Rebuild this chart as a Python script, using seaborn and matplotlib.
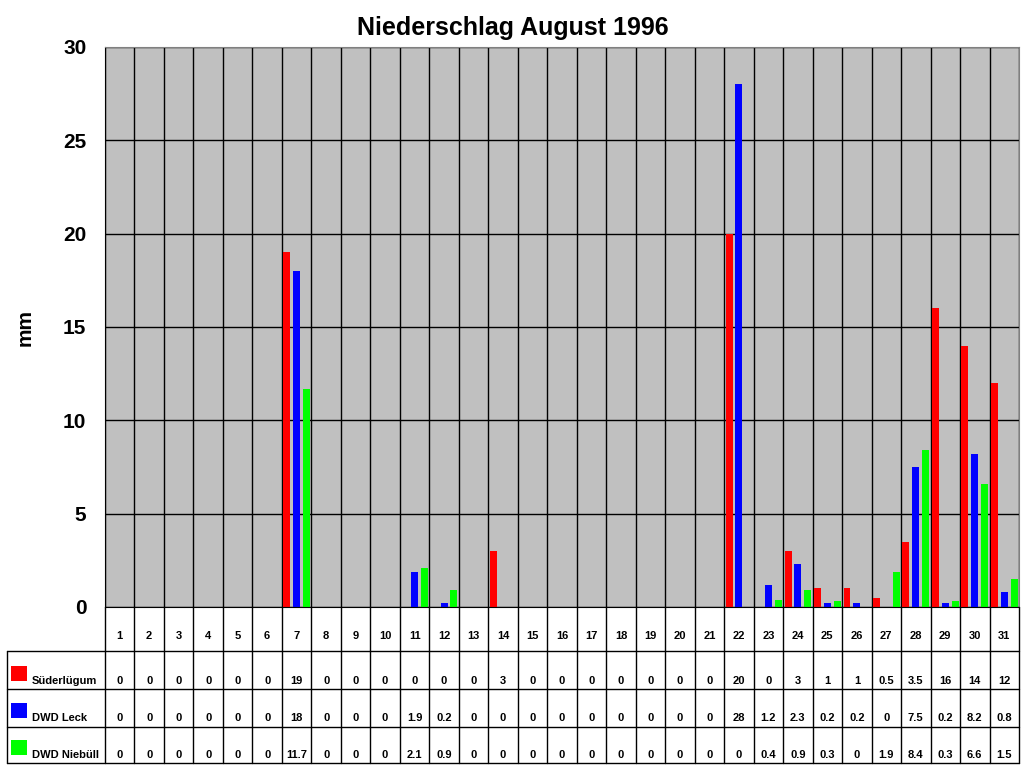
import numpy as np
import pandas as pd
import seaborn as sns
import matplotlib.pyplot as plt
from matplotlib.patches import Rectangle
from matplotlib.lines import Line2D
from matplotlib.transforms import blended_transform_factory

# Daten
days = [str(d) for d in range(1, 32)]
stations = ["Süderlügum", "DWD Leck", "DWD Niebüll"]
suederluegum = [0, 0, 0, 0, 0, 0, 19, 0, 0, 0, 0, 0, 0, 3, 0, 0, 0, 0, 0, 0, 0,
                20, 0, 3, 1, 1, 0.5, 3.5, 16, 14, 12]
leck = [0, 0, 0, 0, 0, 0, 18, 0, 0, 0, 1.9, 0.2, 0, 0, 0, 0, 0, 0, 0, 0, 0,
        28, 1.2, 2.3, 0.2, 0.2, 0, 7.5, 0.2, 8.2, 0.8]
niebuell = [0, 0, 0, 0, 0, 0, 11.7, 0, 0, 0, 2.1, 0.9, 0, 0, 0, 0, 0, 0, 0, 0, 0,
            0, 0.4, 0.9, 0.3, 0, 1.9, 8.4, 0.3, 6.6, 1.5]
colors = ["#FF0000", "#0000FF", "#00FF00"]

series = [suederluegum, leck, niebuell]
df = pd.DataFrame({
    "Tag": days * 3,
    "Station": np.repeat(stations, len(days)),
    "mm": suederluegum + leck + niebuell,
})

sns.set_style("white")
plt.rcParams["font.family"] = ["Liberation Sans", "DejaVu Sans"]
plt.rcParams["font.weight"] = "bold"
plt.rcParams["text.color"] = "black"
plt.rcParams["axes.labelcolor"] = "black"
plt.rcParams["ytick.color"] = "black"

W, H = 1024, 768
fig = plt.figure(figsize=(W / 100, H / 100), dpi=100)
ax = fig.add_axes([105 / W, 1 - 607 / H, 914 / W, 560 / H])

sns.barplot(data=df, x="Tag", y="mm", hue="Station", palette=colors,
            saturation=1, width=1.0, gap=0.29, errorbar=None,
            legend=False, linewidth=0, ax=ax)

ax.set_facecolor("#C0C0C0")
ax.set_xlim(-0.5, len(days) - 0.5)
ax.set_ylim(0, 30)
ax.set_yticks(range(0, 31, 5))
ax.set_axisbelow(True)
ax.yaxis.grid(True, color="black", lw=1)
ax.set_xticks(np.arange(-0.5, len(days), 1), minor=True)
ax.xaxis.grid(True, which="minor", color="black", lw=1)
ax.xaxis.grid(False, which="major")
ax.tick_params(axis="x", which="both", length=0, labelbottom=False)
ax.tick_params(axis="y", length=5, width=1, color="black", pad=8.5,
               labelsize=15, labelcolor="black")
for lab in ax.get_yticklabels():
    lab.set_fontweight("bold")
ax.set_xlabel("")
ax.set_ylabel("mm", fontsize=15, fontweight="bold", va="center", color="black")
ax.yaxis.set_label_coords((25 - 105) / 914, 0.5)

for s in ["top", "right"]:
    ax.spines[s].set_color("#808080")
for s in ["left", "bottom"]:
    ax.spines[s].set_color("black")

fig.text(513 / W, 1 - 28 / H, "Niederschlag August 1996", ha="center",
         va="center", fontsize=18, fontweight="bold", color="black")

# Datentabelle unter dem Diagramm
fy = lambda py: 1 - py / H
fx = lambda px: px / W
bt = blended_transform_factory(ax.transData, fig.transFigure)

row_lines = [651, 689, 727, 763]
for yy in row_lines:
    fig.add_artist(Line2D([fx(7), fx(1019)], [fy(yy), fy(yy)], color="black", lw=1))
fig.add_artist(Line2D([fx(7), fx(7)], [fy(651), fy(763)], color="black", lw=1))
for b in np.arange(-0.5, len(days), 1):
    fig.add_artist(Line2D([b, b], [fy(607), fy(763)], color="black", lw=1,
                          transform=bt))

for i, d in enumerate(days):
    fig.text(i, fy(636), d, transform=bt, ha="center", va="center",
             fontsize=8, fontweight="bold", color="black")

row_y = [681, 718, 755]
for vals, name, col, ry in zip(series, stations, colors, row_y):
    fig.add_artist(Rectangle((fx(11), fy(ry)), 16 / W, 15 / H,
                             facecolor=col, edgecolor="none"))
    fig.text(fx(32), fy(ry), name, ha="left", va="center", fontsize=8,
             fontweight="bold", color="black")
    for i, v in enumerate(vals):
        txt = f"{v:g}"
        fig.text(i, fy(ry), txt, transform=bt, ha="center", va="center",
                 fontsize=8, fontweight="bold", color="black")

fig.savefig("out.png", dpi=100)
